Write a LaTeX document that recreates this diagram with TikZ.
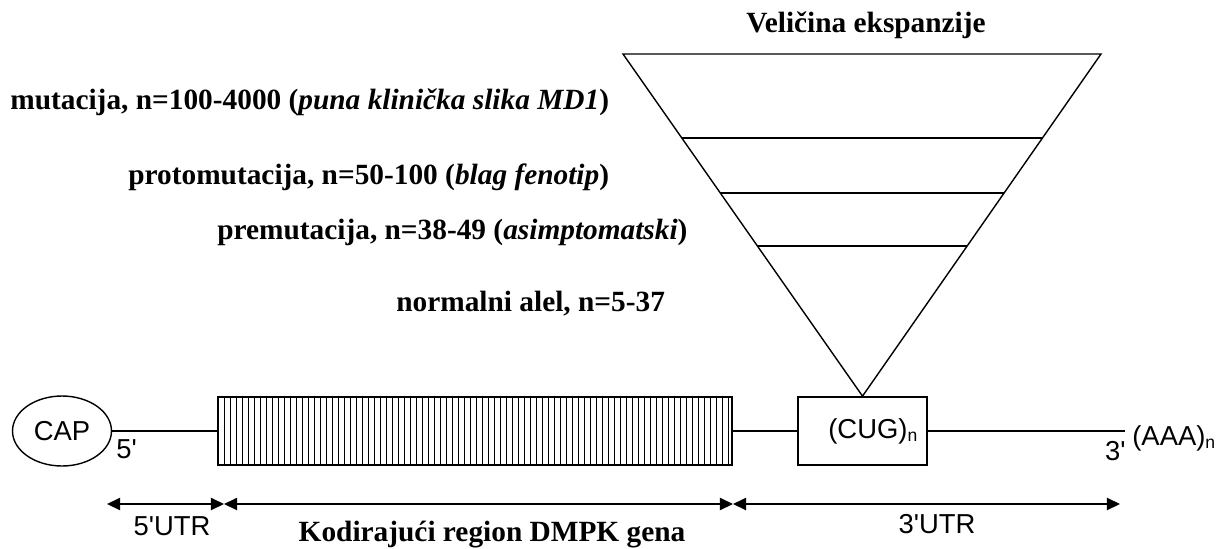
\documentclass[tikz,border=0pt]{standalone}
\usepackage{fontspec}
\setmainfont{Liberation Serif}
\setsansfont{Liberation Sans}
\usetikzlibrary{arrows.meta,positioning,calc,shapes.geometric}

\tikzset{
        lbl/.style={font=\fontsize{16.7}{19}\selectfont\bfseries, anchor=west, inner sep=0pt},
        sflbl/.style={font=\sffamily\fontsize{15.6}{18}\selectfont, inner sep=0pt},
        strand/.style={line width=1.1pt},
        thin/.style={line width=0.8pt},
        dim/.style={{Triangle[length=7.5pt,width=7pt]}-{Triangle[length=7.5pt,width=7pt]}, line width=0.8pt},
        exon/.style={draw, line width=1pt, minimum width=10.28cm, minimum height=1.36cm, inner sep=0pt},
}
\newcommand{\subn}{$_{\textsf{\fontsize{10}{12}\selectfont n}}$}
\newcommand{\apos}{\textquotesingle}

\begin{document}
\begin{tikzpicture}[x=0.02cm, y=-0.02cm]
        \useasboundingbox (0,0) rectangle (1223,548);

        \node (cap) [draw, ellipse, line width=0.8pt, minimum width=1.98cm, minimum height=1.4cm, sflbl] at (62,431) {CAP};
        \node (kod) [exon, path picture={
                \foreach \k in {1,...,85}
                    \draw[line width=0.5pt] ([xshift=\k*0.12cm]path picture bounding box.south west) -- ++(0,1.4cm);
            }] at (475,431) {};
        \node (cug) [draw, line width=1pt, minimum width=2.58cm, minimum height=1.36cm, inner sep=0pt] at (862.5,431) {};
        \node (cugtxt) [sflbl, anchor=west] at (828,431) {(CUG)\subn};
        \coordinate (kraj) at (1125,431);

        \draw[strand] (cap.east) -- (kod.west);
        \draw[strand] (kod.east) -- (cug.west);
        \draw[strand] (cug.east) -- (kraj);

        \node (p5) [sflbl, anchor=west] at (116,449) {5\apos};
        \node (p3) [sflbl, anchor=east] at (1126,451) {3\apos};
        \node (aaa) [sflbl, anchor=west] at (1132,438) {(AAA)\subn};

        \coordinate (tl) at (623,54);
        \coordinate (tr) at (1101,54);
        \draw[thin] (tl) -- (tr) -- (cug.north) -- cycle;
        \foreach \f in {0.2456,0.406,0.561}
            \draw[thin] ($(tl)!\f!(cug.north)$) -- ($(tr)!\f!(cug.north)$);

        \node (naslov) [lbl, anchor=center] at (866,25) {Veličina ekspanzije};
        \node (mut) [lbl] at (10,102) {mutacija, n=100-4000 (\textit{puna klinička slika MD1})};
        \node (proto) [lbl] at (128,177) {protomutacija, n=50-100 (\textit{blag fenotip})};
        \node (pre) [lbl] at (217,232) {premutacija, n=38-49 (\textit{asimptomatski})};
        \node (norm) [lbl] at (396,304) {normalni alel, n=5-37};

        \coordinate (d0) at (107,504);
        \coordinate (d1) at (224,504);
        \coordinate (d2) at (733,504);
        \coordinate (d3) at (1120,504);
        \draw[dim] (d0) -- (d1);
        \draw[dim] (d1) -- (d2);
        \draw[dim] (d2) -- (d3);

        \node (utr5) [sflbl] at (172,526) {5\apos UTR};
        \node (kodlbl) [lbl, anchor=center] at (492,535) {Kodirajući region DMPK gena};
        \node (utr3) [sflbl] at (937,524) {3\apos UTR};
\end{tikzpicture}
\end{document}
